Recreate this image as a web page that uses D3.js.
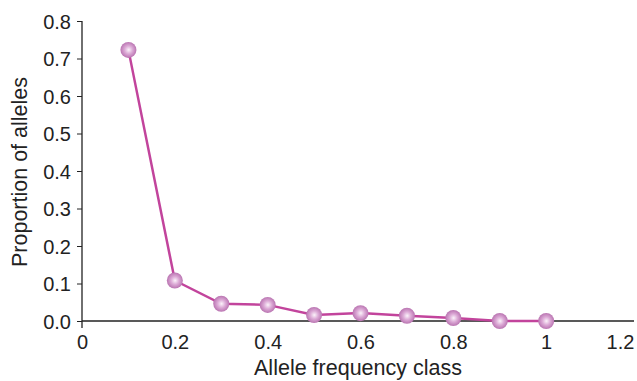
<!DOCTYPE html>
<html>
<head>
<meta charset="utf-8">
<script src="https://d3js.org/d3.v7.min.js"></script>
<style>
  body { margin: 0; background: #fff; }
  svg { display: block; font-family: "Liberation Sans", Arial, sans-serif; }
</style>
</head>
<body>
<div id="chart"></div>
<script>
// Allele frequency classes and the proportion of alleles in each
const freqClass = [0.1, 0.2, 0.3, 0.4, 0.5, 0.6, 0.7, 0.8, 0.9, 1.0];
const proportion = [0.723, 0.108, 0.046, 0.043, 0.016, 0.021, 0.014, 0.008, 0.0, 0.0];
const xTicks = [0, 0.2, 0.4, 0.6, 0.8, 1, 1.2];
const yTicks = [0, 0.1, 0.2, 0.3, 0.4, 0.5, 0.6, 0.7, 0.8];

const width = 637, height = 381;
const margin = { top: 21, left: 82, bottom: 60 };

const svg = d3.select("#chart").append("svg")
    .attr("width", width)
    .attr("height", height);

const x = d3.scaleLinear().domain([0, 1.2]).range([margin.left, 639]);
const y = d3.scaleLinear().domain([0, 0.8]).range([height - margin.bottom, margin.top]);

const lineColor = "#c2449c";

// marker gradient
const grad = svg.append("defs").append("radialGradient")
    .attr("id", "ball")
    .attr("cx", "50%").attr("cy", "50%").attr("r", "55%")
    .attr("fx", "52%").attr("fy", "50%");
grad.append("stop").attr("offset", "0%").attr("stop-color", "#fbf3fa");
grad.append("stop").attr("offset", "45%").attr("stop-color", "#dcaad6");
grad.append("stop").attr("offset", "100%").attr("stop-color", "#b36aaa");

// y axis
const yAxis = svg.append("g")
    .attr("transform", `translate(${margin.left},0)`)
    .call(d3.axisLeft(y).tickValues(yTicks).tickFormat(d3.format(".1f")).tickSize(5).tickSizeOuter(0));
yAxis.select(".domain").attr("d", `M0,${y(0.8)}V${y(0) + 7}`);
yAxis.selectAll("line").attr("stroke", "#222");
yAxis.selectAll(".domain").attr("stroke", "#222").attr("stroke-width", 1.3);
yAxis.selectAll("text")
    .attr("x", -11)
    .attr("dy", "0.36em")
    .style("font-size", "20px")
    .attr("fill", "#222");

// x axis
const xAxis = svg.append("g")
    .attr("transform", `translate(0,${y(0)})`)
    .call(d3.axisBottom(x).tickValues(xTicks).tickFormat(d => d3.format("")(d)).tickSize(0));
xAxis.select(".domain").attr("d", `M${margin.left},0H634`).attr("stroke", "#222").attr("stroke-width", 1.3);
xAxis.selectAll("text")
    .attr("y", 14)
    .attr("dy", "0.71em")
    .style("font-size", "20px")
    .attr("fill", "#222")
    .attr("dx", d => d === 1.2 ? -19 : 0);

// axis titles
svg.append("text")
    .attr("x", 358)
    .attr("y", 375)
    .attr("text-anchor", "middle")
    .style("font-size", "21.5px")
    .attr("fill", "#222")
    .text("Allele frequency class");

svg.append("text")
    .attr("transform", `translate(27,${(y(0) + y(0.8)) / 2 + 1}) rotate(-90)`)
    .attr("text-anchor", "middle")
    .style("font-size", "21.5px")
    .attr("fill", "#222")
    .text("Proportion of alleles");

// line
const pts = freqClass.map((f, i) => ({ f, p: proportion[i] }));
svg.append("path")
    .datum(pts)
    .attr("fill", "none")
    .attr("stroke", lineColor)
    .attr("stroke-width", 2.5)
    .attr("d", d3.line().x(d => x(d.f)).y(d => y(d.p)));

svg.selectAll(".dot")
    .data(pts)
    .enter().append("circle")
    .attr("class", "dot")
    .attr("cx", d => x(d.f))
    .attr("cy", d => y(d.p))
    .attr("r", 8)
    .attr("fill", "url(#ball)");
</script>
</body>
</html>
